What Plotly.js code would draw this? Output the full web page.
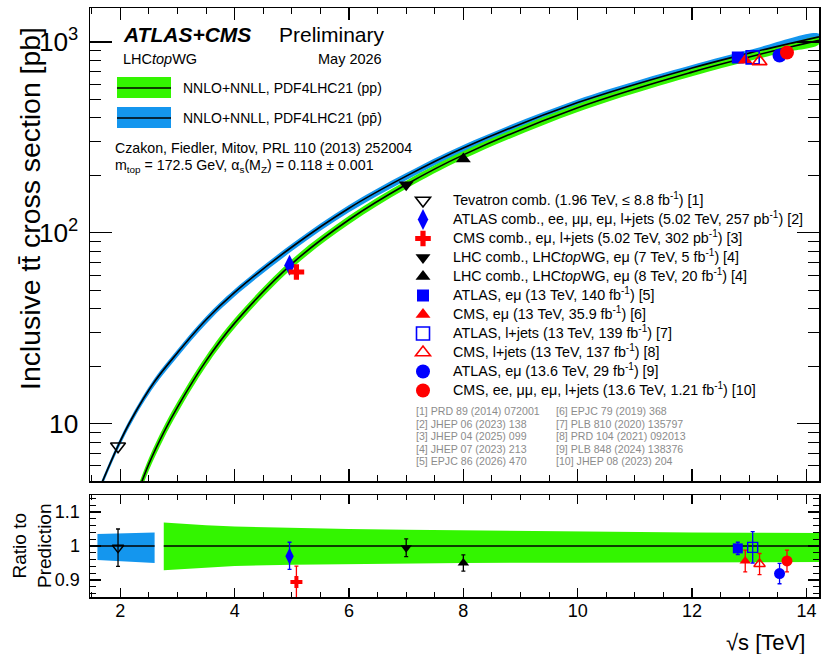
<!DOCTYPE html>
<html><head><meta charset="utf-8">
<script src="https://cdn.plot.ly/plotly-3.0.1.min.js"></script>
<style>html,body{margin:0;padding:0;background:#fff}#chart{width:823px;height:654px}</style>
</head><body><div id="chart"></div>
<script>
// ---------- measurements ----------
const measLabels = [
  "Tevatron comb. (1.96 TeV, ≤ 8.8 fb<sup>-1</sup>) [1]",
  "ATLAS comb., ee, μμ, eμ, l+jets (5.02 TeV, 257 pb<sup>-1</sup>) [2]",
  "CMS comb., eμ, l+jets (5.02 TeV, 302 pb<sup>-1</sup>) [3]",
  "LHC comb., LHC<i>top</i>WG, eμ (7 TeV, 5 fb<sup>-1</sup>) [4]",
  "LHC comb., LHC<i>top</i>WG, eμ (8 TeV, 20 fb<sup>-1</sup>) [4]",
  "ATLAS, eμ (13 TeV, 140 fb<sup>-1</sup>) [5]",
  "CMS, eμ (13 TeV, 35.9 fb<sup>-1</sup>) [6]",
  "ATLAS, l+jets (13 TeV, 139 fb<sup>-1</sup>) [7]",
  "CMS, l+jets (13 TeV, 137 fb<sup>-1</sup>) [8]",
  "ATLAS, eμ (13.6 TeV, 29 fb<sup>-1</sup>) [9]",
  "CMS, ee, μμ, eμ, l+jets (13.6 TeV, 1.21 fb<sup>-1</sup>) [10]"
];
const measSqrtS = [1.96, 4.96, 5.08, 7.0, 8.0, 12.8, 12.93, 13.06, 13.18, 13.53, 13.66];
const measXsec = [7.60, 67.5, 62.3, 178.5, 243.3, 829, 803, 830, 791, 850, 881];
const measRatio = [0.995, 0.970, 0.894, 0.995, 0.950, 0.993, 0.956, 0.996, 0.947, 0.919, 0.956];
const measRatioErrUp = [0.055, 0.041, 0.047, 0.026, 0.024, 0.018, 0.032, 0.046, 0.031, 0.030, 0.032];
const measRatioErrDown = [0.055, 0.039, 0.047, 0.026, 0.024, 0.018, 0.032, 0.046, 0.031, 0.030, 0.032];

// ---------- theory: NNLO+NNLL, PDF4LHC21 ----------
const ppSqrtS = [2.3, 2.5, 2.76, 3, 3.5, 4, 5.02, 6, 7, 8, 10, 12, 13, 13.6, 14.22];
const ppXsec = [4.3, 6.15, 9.0, 12.2, 21.3, 33.6, 69.6, 117, 179, 256, 452, 695, 835, 924, 1020];
const ppRelUp = [0.072, 0.071, 0.069, 0.066, 0.061, 0.057, 0.053, 0.050, 0.048, 0.046, 0.043, 0.040, 0.039, 0.039, 0.038];
const ppRelDown = [0.075, 0.073, 0.071, 0.068, 0.063, 0.059, 0.055, 0.053, 0.051, 0.050, 0.049, 0.048, 0.048, 0.047, 0.047];

const ppbarSqrtS = [1.6, 1.96, 2.2, 2.6, 3, 3.5, 4, 5.02, 6, 7, 8, 10, 12, 13, 14.22];
const ppbarXsec = [4.3, 7.64, 10.6, 16.6, 23.5, 35, 48.7, 85, 134.5, 198, 278, 481, 730, 874, 1064];
const ppbarRelUp = [0.035, 0.037, 0.038, 0.040, 0.040, 0.040, 0.040, 0.039, 0.039, 0.038, 0.038, 0.037, 0.037, 0.037, 0.037];
const ppbarRelDown = [0.041, 0.044, 0.046, 0.050, 0.050, 0.050, 0.049, 0.048, 0.048, 0.047, 0.047, 0.046, 0.046, 0.046, 0.046];

// ratio panel ranges of the theory bands
const ppRatioMinS = 2.76;
const ppbarRatioMaxS = 2.6;

const refLabels = [
  "[1] PRD 89 (2014) 072001", "[2] JHEP 06 (2023) 138", "[3] JHEP 04 (2025) 099",
  "[4] JHEP 07 (2023) 213", "[5] EPJC 86 (2026) 470",
  "[6] EPJC 79 (2019) 368", "[7] PLB 810 (2020) 135797", "[8] PRD 104 (2021) 092013",
  "[9] PLB 848 (2024) 138376", "[10] JHEP 08 (2023) 204"
];

// ---------- styles ----------
const GREEN = '#33f500', BLUE = '#1496ee';
const measStyle = [
  {symbol:'triangle-down-open', color:'#000000', size:13},
  {symbol:'diamond-tall', color:'#0000ff', size:15},
  {symbol:'cross', color:'#ff0000', size:13},
  {symbol:'triangle-down', color:'#000000', size:13},
  {symbol:'triangle-up', color:'#000000', size:13},
  {symbol:'square', color:'#0000ff', size:12},
  {symbol:'triangle-up', color:'#ff0000', size:13},
  {symbol:'square-open', color:'#0000ff', size:13},
  {symbol:'triangle-up-open', color:'#ff0000', size:13},
  {symbol:'circle', color:'#0000ff', size:14},
  {symbol:'circle', color:'#ff0000', size:14}
];

function band(xs, c, up, dn, xa, ya, color, relative, shape) {
  const xin = xs.slice(), xr = xs.slice().reverse();
  const yU = xs.map((_, i) => (relative ? 1 : c[i]) * (1 + up[i]));
  const yD = xs.map((_, i) => (relative ? 1 : c[i]) * (1 - dn[i])).reverse();
  return {x: xin.concat(xr), y: yU.concat(yD), xaxis: xa, yaxis: ya, type: 'scatter', mode: 'lines',
    fill: 'toself', fillcolor: color, line: {width: 0, shape: shape, smoothing: 1},
    hoverinfo: 'skip', showlegend: false};
}
function centre(xs, ys, xa, ya) {
  return {x: xs, y: ys, xaxis: xa, yaxis: ya, type: 'scatter', mode: 'lines',
    line: {color: '#000', width: 1.6, shape: 'spline', smoothing: 1}, hoverinfo: 'skip', showlegend: false};
}
function sub(xs, arr, keep) { return arr.filter((_, i) => keep(xs[i])); }

const traces = [];
// main panel bands
traces.push(band(ppbarSqrtS, ppbarXsec, ppbarRelUp, ppbarRelDown, 'x', 'y', BLUE, false, 'spline'));
traces.push(band(ppSqrtS, ppXsec, ppRelUp, ppRelDown, 'x', 'y', GREEN, false, 'spline'));
traces.push(centre(ppbarSqrtS, ppbarXsec, 'x', 'y'));
traces.push(centre(ppSqrtS, ppXsec, 'x', 'y'));

// ratio panel bands
const keepPP = s => s >= ppRatioMinS, keepPPbar = s => s <= ppbarRatioMaxS;
const ppRS = sub(ppSqrtS, ppSqrtS, keepPP);
traces.push(band(ppRS, null, sub(ppSqrtS, ppRelUp, keepPP), sub(ppSqrtS, ppRelDown, keepPP), 'x2', 'y2', GREEN, true, 'linear'));
const pbRS = sub(ppbarSqrtS, ppbarSqrtS, keepPPbar);
traces.push(band(pbRS, null, sub(ppbarSqrtS, ppbarRelUp, keepPPbar), sub(ppbarSqrtS, ppbarRelDown, keepPPbar), 'x2', 'y2', BLUE, true, 'linear'));
traces.push(centre([ppRS[0], ppRS[ppRS.length - 1]], [1, 1], 'x2', 'y2'));
traces.push(centre([pbRS[0], pbRS[pbRS.length - 1]], [1, 1], 'x2', 'y2'));

// measurements
measLabels.forEach((lab, i) => {
  const st = measStyle[i];
  const open = st.symbol.indexOf('open') >= 0;
  traces.push({x: [measSqrtS[i]], y: [measXsec[i]], xaxis: 'x', yaxis: 'y', type: 'scatter', mode: 'markers',
    name: '<span style="font-size:14.3px">' + lab + '</span>',
    marker: {symbol: st.symbol, color: st.color, size: st.size, line: {color: st.color, width: open ? 1.6 : 0}},
    showlegend: true, cliponaxis: false});
});
measLabels.forEach((lab, i) => {
  const st = measStyle[i];
  const open = st.symbol.indexOf('open') >= 0;
  traces.push({x: [measSqrtS[i]], y: [measRatio[i]], xaxis: 'x2', yaxis: 'y2', type: 'scatter', mode: 'markers',
    name: lab, marker: {symbol: st.symbol, color: st.color, size: Math.round(st.size * 0.8), line: {color: st.color, width: open ? 1.4 : 0}},
    error_y: {type: 'data', symmetric: false, array: [measRatioErrUp[i]], arrayminus: [measRatioErrDown[i]], color: st.color, thickness: 1.3, width: 2},
    showlegend: false});
});

// ---------- layout helpers (pixel -> paper) ----------
const L = 90, R = 819, T = 8, B = 597;
const px = x => (x - L) / (R - L);
const py = y => (B - y) / (B - T);
const FONT = 'Liberation Sans, Arial, Helvetica, sans-serif';

const ann = [];
function txt(text, x, y, size, opts) {
  ann.push(Object.assign({text: text, x: px(x), y: py(y), xref: 'paper', yref: 'paper', showarrow: false,
    xanchor: 'left', yanchor: 'middle', font: {family: FONT, size: size, color: '#000'}}, opts || {}));
}
txt('<b><i>ATLAS+CMS</i></b>', 121, 35, 21);
txt('Preliminary', 277, 35, 21);
txt('LHC<i>top</i>WG', 121, 59, 14.5);
txt('May 2026', 384, 59, 14.5, {xanchor: 'right'});
txt('NNLO+NNLL, PDF4LHC21 (pp)', 181, 88, 14);
txt('NNLO+NNLL, PDF4LHC21 (pp\u0304)', 181, 118, 14);
txt('Czakon, Fiedler, Mitov, PRL 110 (2013) 252004', 113, 148, 14.2);
txt('m<sub>top</sub> = 172.5 GeV, α<sub>s</sub>(M<sub>Z</sub>) = 0.118 ± 0.001', 113, 166, 14.2);
refLabels.forEach((r, i) => {
  const col = Math.floor(i / 5), row = i % 5;
  txt(r, col === 0 ? 414 : 554, 411 + row * 12.5, 10.6, {font: {family: FONT, size: 10.6, color: '#8c8c8c'}});
});
// axis titles (ROOT-style alignment)
txt('Inclusive t\u0074\u0304 cross section [pb]', 30, 209, 28.4, {xanchor: 'center', textangle: -90});
txt('Ratio to<br>Prediction', 32, 546, 19, {xanchor: 'center', textangle: -90});
txt('√s [TeV]', 807, 642, 22, {xanchor: 'right'});

const shapes = [
  {type: 'rect', xref: 'paper', yref: 'paper', x0: px(117), x1: px(171), y0: py(77), y1: py(98), fillcolor: GREEN, line: {width: 0}},
  {type: 'line', xref: 'paper', yref: 'paper', x0: px(117), x1: px(171), y0: py(88), y1: py(88), line: {color: '#000', width: 1.6}},
  {type: 'rect', xref: 'paper', yref: 'paper', x0: px(117), x1: px(171), y0: py(107), y1: py(128), fillcolor: BLUE, line: {width: 0}},
  {type: 'line', xref: 'paper', yref: 'paper', x0: px(117), x1: px(171), y0: py(118), y1: py(118), line: {color: '#000', width: 1.6}}
];

const axCommon = {showline: true, linecolor: '#000', linewidth: 1.5, mirror: 'ticks', ticks: 'inside',
  tickcolor: '#000', tickwidth: 1.2, showgrid: false, zeroline: false};

const layout = {
  width: 823, height: 654,
  margin: {l: L, r: 823 - R, t: T, b: 654 - B},
  paper_bgcolor: '#fff', plot_bgcolor: '#fff',
  font: {family: FONT, color: '#000'},
  showlegend: true,
  legend: {x: px(393), y: py(186), xanchor: 'left', yanchor: 'top', bgcolor: 'rgba(0,0,0,0)',
    font: {family: FONT, size: 12.3, color: '#000'}, itemwidth: 50, tracegroupgap: 0, traceorder: 'normal'},
  xaxis: Object.assign({}, axCommon, {domain: [0, 1], anchor: 'y', range: [1.47, 14.22], tick0: 0, dtick: 2,
    ticklen: 12, showticklabels: false, minor: {dtick: 0.5, ticklen: 6, tickcolor: '#000', tickwidth: 1, ticks: 'inside'}}),
  yaxis: Object.assign({}, axCommon, {domain: [(B - 481) / (B - T), 1], anchor: 'x', type: 'log', range: [0.699, 3.178],
    dtick: 1, exponentformat: 'power', ticklen: 22, ticklabelstandoff: 6, tickfont: {family: FONT, size: 21},
    minor: {dtick: 'D1', ticklen: 11, tickcolor: '#000', tickwidth: 1, ticks: 'inside'}}),
  xaxis2: Object.assign({}, axCommon, {domain: [0, 1], anchor: 'y2', range: [1.47, 14.22], tick0: 0, dtick: 2,
    ticklen: 9, tickfont: {family: FONT, size: 18}, ticklabelstandoff: -3,
    minor: {dtick: 0.5, ticklen: 5, tickcolor: '#000', tickwidth: 1, ticks: 'inside'}}),
  yaxis2: Object.assign({}, axCommon, {domain: [0, (B - 495) / (B - T)], anchor: 'x2', range: [0.85, 1.15],
    tick0: 0, dtick: 0.1, ticklen: 11, tickfont: {family: FONT, size: 18}, ticklabelstandoff: 5,
    minor: {dtick: 0.02, ticklen: 6, tickcolor: '#000', tickwidth: 1, ticks: 'inside'}}),
  annotations: ann,
  shapes: shapes
};

Plotly.newPlot('chart', traces, layout, {displayModeBar: false, staticPlot: true});
</script>
</body></html>
